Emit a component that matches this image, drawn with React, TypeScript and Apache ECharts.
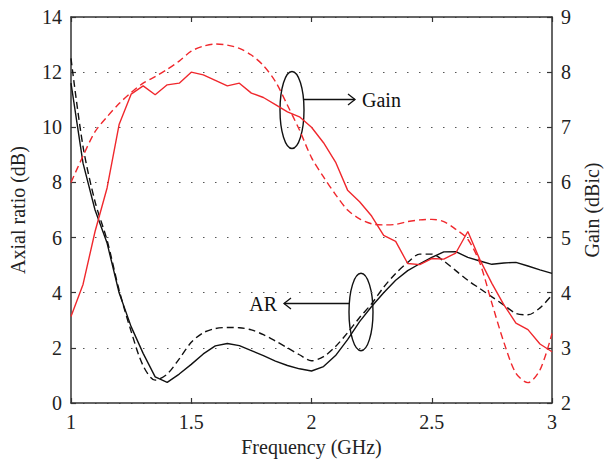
import React, { useEffect, useRef } from "react";
import * as echarts from "echarts";

const freq = [1.0, 1.05, 1.1, 1.15, 1.2, 1.25, 1.3, 1.35, 1.4, 1.45, 1.5, 1.55, 1.6, 1.65, 1.7, 1.75, 1.8, 1.85, 1.9, 1.95, 2.0, 2.05, 2.1, 2.15, 2.2, 2.25, 2.3, 2.35, 2.4, 2.45, 2.5, 2.55, 2.6, 2.65, 2.7, 2.75, 2.8, 2.85, 2.9, 2.95, 3.0];

const arMeasured = [11.6, 8.7, 7.0, 5.8, 4.0, 2.77, 1.8, 0.95, 0.75, 1.05, 1.4, 1.78, 2.07, 2.16, 2.08, 1.9, 1.72, 1.52, 1.36, 1.24, 1.16, 1.32, 1.72, 2.3, 2.95, 3.5, 4.0, 4.45, 4.8, 5.05, 5.28, 5.48, 5.49, 5.28, 5.15, 5.03, 5.08, 5.1, 4.97, 4.83, 4.7];

const arSimulated = [12.5, 9.3, 7.3, 5.9, 4.1, 2.6, 1.35, 0.83, 1.05, 1.6, 2.2, 2.55, 2.7, 2.74, 2.73, 2.65, 2.48, 2.25, 2.0, 1.75, 1.53, 1.68, 2.05, 2.55, 3.1, 3.6, 4.2, 4.7, 5.1, 5.4, 5.4, 5.15, 4.8, 4.45, 4.15, 3.85, 3.55, 3.25, 3.2, 3.45, 3.92];

const gainMeasured = [3.57, 4.15, 5.11, 5.9, 7.05, 7.6, 7.75, 7.59, 7.77, 7.8, 8.0, 7.95, 7.85, 7.75, 7.8, 7.62, 7.54, 7.41, 7.28, 7.19, 7.0, 6.72, 6.37, 5.86, 5.65, 5.39, 5.04, 4.93, 4.53, 4.51, 4.62, 4.61, 4.72, 5.11, 4.6, 4.17, 3.78, 3.45, 3.33, 3.07, 2.93];

const gainSimulated = [6.0, 6.48, 6.92, 7.19, 7.43, 7.63, 7.8, 7.92, 8.05, 8.2, 8.38, 8.47, 8.51, 8.49, 8.43, 8.31, 8.12, 7.83, 7.4, 6.95, 6.45, 6.1, 5.78, 5.5, 5.34, 5.25, 5.23, 5.24, 5.29, 5.32, 5.33, 5.29, 5.15, 4.97, 4.54, 3.81, 3.1, 2.54, 2.37, 2.6, 3.26];

const xTicks = { min: 1, max: 3, interval: 0.5 };
const arTicks = { min: 0, max: 14, interval: 2 };
const gainTicks = { min: 2, max: 9, interval: 1 };

const FONT = "'Liberation Serif', 'DejaVu Serif', serif";
const RED = "#f0282d";
const BLACK = "#111";
const AXIS = "#333";

const pairs = (ys: number[]) => freq.map((f, i) => [f, ys[i]]);

export default function App() {
  const ref = useRef<HTMLDivElement>(null);
  useEffect(() => {
    if (!ref.current) return;
    const chart = echarts.init(ref.current, undefined, { renderer: "svg" });
    const axisLine = { show: true, onZero: false, lineStyle: { color: AXIS, width: 1.5 } };
    const tick = { show: true, inside: true, length: 5, lineStyle: { color: AXIS, width: 1.2 } };
    const label = { color: "#222", fontFamily: FONT, fontSize: 20 };
    const nameStyle = { color: "#222", fontFamily: FONT, fontSize: 20 };
    chart.setOption({
      animation: false,
      grid: { left: 69, right: 50, top: 17, bottom: 61 },
      xAxis: [
        {
          type: "value", ...xTicks, position: "bottom",
          axisLine, axisTick: tick, axisLabel: { ...label, margin: 9 },
          splitLine: { show: false },
          name: "Frequency (GHz)", nameLocation: "middle", nameGap: 33,
          nameTextStyle: nameStyle,
        },
        {
          type: "value", ...xTicks, position: "top",
          axisLine, axisTick: tick, axisLabel: { show: false }, splitLine: { show: false },
        },
      ],
      yAxis: [
        {
          type: "value", ...arTicks, position: "left",
          axisLine, axisTick: tick, axisLabel: { ...label, margin: 9 },
          splitLine: { show: true, lineStyle: { color: "#555", width: 1.2, type: [1.5, 10.5] } },
          name: "Axial ratio (dB)", nameLocation: "middle", nameGap: 43,
          nameTextStyle: nameStyle,
        },
        {
          type: "value", ...gainTicks, position: "right",
          axisLine, axisTick: tick, axisLabel: { ...label, margin: 9 },
          splitLine: { show: false },
          name: "Gain (dBic)", nameLocation: "middle", nameGap: 30, nameRotate: 90,
          nameTextStyle: nameStyle,
        },
      ],
      series: [
        {
          type: "line", name: "AR measured", data: pairs(arMeasured), xAxisIndex: 0, yAxisIndex: 0,
          showSymbol: false, lineStyle: { color: BLACK, width: 1.4 },
        },
        {
          type: "line", name: "AR simulated", data: pairs(arSimulated), xAxisIndex: 0, yAxisIndex: 0,
          showSymbol: false, smooth: 0.3, lineStyle: { color: BLACK, width: 1.4, type: [7, 4] },
        },
        {
          type: "line", name: "Gain measured", data: pairs(gainMeasured), xAxisIndex: 0, yAxisIndex: 1,
          showSymbol: false, lineStyle: { color: RED, width: 1.4 },
        },
        {
          type: "line", name: "Gain simulated", data: pairs(gainSimulated), xAxisIndex: 0, yAxisIndex: 1,
          showSymbol: false, smooth: 0.3, lineStyle: { color: RED, width: 1.4, type: [7, 4] },
        },
      ],
      graphic: [
        { type: "ellipse", shape: { cx: 292, cy: 110, rx: 12, ry: 38.5 }, style: { fill: "none", stroke: BLACK, lineWidth: 1.4 } },
        { type: "line", shape: { x1: 304, y1: 99.5, x2: 355, y2: 99.5 }, style: { stroke: BLACK, lineWidth: 1.3 } },
        { type: "polyline", shape: { points: [[348, 94], [355, 99.5], [348, 105]] }, style: { fill: "none", stroke: BLACK, lineWidth: 1.3 } },
        { type: "text", x: 362, y: 100, style: { text: "Gain", fill: "#111", font: `20px ${FONT}`, verticalAlign: "middle", align: "left" } },
        { type: "ellipse", shape: { cx: 361, cy: 312, rx: 12, ry: 38.7 }, style: { fill: "none", stroke: BLACK, lineWidth: 1.4 } },
        { type: "line", shape: { x1: 349, y1: 303.5, x2: 284, y2: 303.5 }, style: { stroke: BLACK, lineWidth: 1.3 } },
        { type: "polyline", shape: { points: [[291, 298], [284, 303.5], [291, 309]] }, style: { fill: "none", stroke: BLACK, lineWidth: 1.3 } },
        { type: "text", x: 277, y: 304, style: { text: "AR", fill: "#111", font: `20px ${FONT}`, verticalAlign: "middle", align: "right" } },
      ],
    });
    return () => chart.dispose();
  }, []);
  return <div ref={ref} style={{ width: 610, height: 464, position: "absolute", left: 0, top: 0 }} />;
}
